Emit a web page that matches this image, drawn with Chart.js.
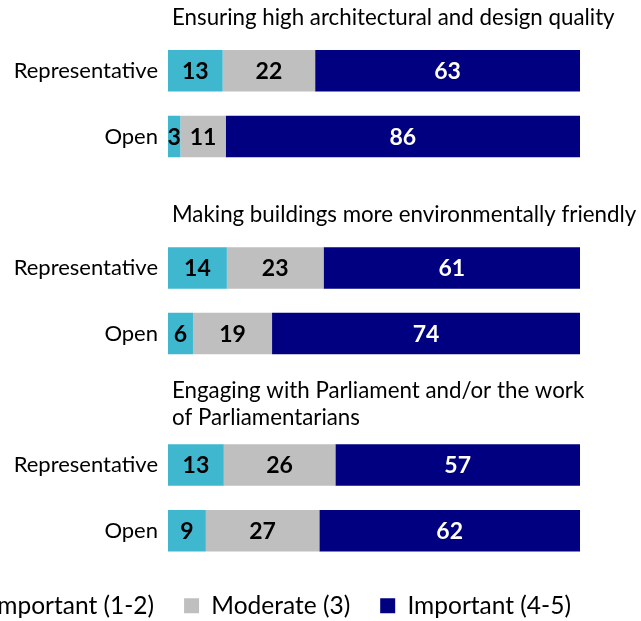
<!DOCTYPE html>
<html><head><meta charset="utf-8">
<script src="https://cdn.jsdelivr.net/npm/chart.js@4"></script>
<style>
html,body{margin:0;padding:0;overflow:hidden;background:#fff;width:641px;height:621px;}
#wrap{position:absolute;left:-180px;top:0;width:848px;height:628px;}
</style></head><body>
<div id="wrap"><canvas id="c"></canvas></div>
<script>
// ---- data ----
const rowLabels = ['Representative', 'Open', '', 'Representative', 'Open', '', 'Representative', 'Open'];
const groupTitles = [
  ['Ensuring high architectural and design quality'],
  ['Making buildings more environmentally friendly'],
  ['Engaging with Parliament and/or the work', 'of Parliamentarians']
];
const seriesNames = ['Not important (1-2)', 'Moderate (3)', 'Important (4-5)'];
const notImportant = [13, 3, 14, 6, 13, 9];
const moderate     = [22, 11, 23, 19, 26, 27];
const important    = [63, 86, 61, 74, 57, 62];

// ---- build ----
const slots = [0, 1, 3, 4, 6, 7];
const groupFirstRow = [0, 3, 6];
const series = [notImportant, moderate, important];
const colors = ['#3FB7CF', '#BFBFBF', '#000080'];
const labelColors = ['#000000', '#000000', '#FFFFFF'];
const totals = notImportant.map((v, i) => v + moderate[i] + important[i]);
const FONT = 'Lato';

const datasets = series.map((vals, s) => {
  const data = rowLabels.map(() => null);
  const raw = rowLabels.map(() => null);
  vals.forEach((v, i) => { data[slots[i]] = v / totals[i] * 100; raw[slots[i]] = v; });
  return {
    label: seriesNames[s], data, raw,
    backgroundColor: colors[s], borderWidth: 0,
    barPercentage: 0.632, categoryPercentage: 1.0
  };
});

const valueLabels = {
  id: 'valueLabels',
  afterDatasetsDraw(chart) {
    const ctx = chart.ctx;
    ctx.save();
    ctx.font = 'bold 23px ' + FONT;
    ctx.textAlign = 'center';
    ctx.textBaseline = 'middle';
    chart.data.datasets.forEach((ds, di) => {
      const meta = chart.getDatasetMeta(di);
      meta.data.forEach((bar, i) => {
        if (ds.raw[i] == null) return;
        const p = bar.getCenterPoint();
        ctx.fillStyle = labelColors[di];
        ctx.fillText(String(ds.raw[i]), p.x, p.y + 1);
      });
    });
    ctx.restore();
  }
};

const groupTitlePlugin = {
  id: 'groupTitles',
  afterDraw(chart) {
    const ctx = chart.ctx;
    const y = chart.scales.y;
    ctx.save();
    ctx.font = '22.3px ' + FONT;
    ctx.fillStyle = '#000';
    ctx.textAlign = 'left';
    ctx.textBaseline = 'alphabetic';
    groupTitles.forEach((lines, g) => {
      const cy = y.getPixelForValue(groupFirstRow[g]);
      const lastBase = lines.length > 1 ? cy - 40 : cy - 45.5;
      lines.forEach((t, k) => {
        ctx.fillText(t, chart.chartArea.left + 4, lastBase - (lines.length - 1 - k) * 26.5);
      });
    });
    ctx.restore();
  }
};

new Chart(document.getElementById('c'), {
  type: 'bar',
  data: { labels: rowLabels, datasets },
  options: {
    indexAxis: 'y',
    responsive: true,
    maintainAspectRatio: false,
    animation: false,
    layout: { padding: { top: 38, left: 0, right: 0, bottom: 0 } },
    scales: {
      x: { stacked: true, min: 0, max: 100, display: false },
      y: {
        stacked: true,
        grid: { display: false, drawTicks: false }, border: { display: false },
        ticks: { padding: 10, color: '#000', font: { family: FONT, size: 22 } },
        afterFit(s) { s.width = 348; }
      },
      y2: {
        type: 'category', labels: rowLabels, position: 'right',
        grid: { display: false, drawTicks: false }, border: { display: false },
        ticks: { display: false },
        afterFit(s) { s.width = 88; }
      }
    },
    plugins: {
      legend: {
        position: 'bottom',
        labels: { boxWidth: 15, boxHeight: 15, padding: 30, color: '#000', font: { family: FONT, size: 24.5 } }
      },
      tooltip: { enabled: false }
    }
  },
  plugins: [valueLabels, groupTitlePlugin]
});
</script>
</body></html>
